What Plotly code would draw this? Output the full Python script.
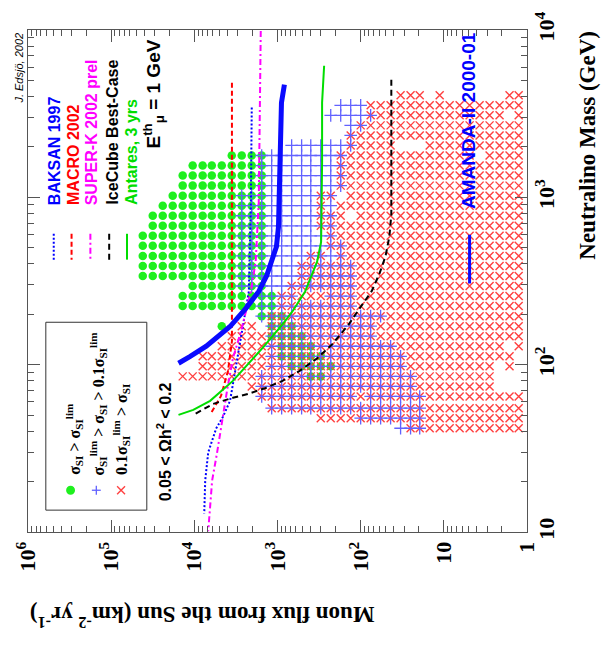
import plotly.graph_objects as go

# ---- model scan grid (bin centres, log10 of value) ----
FLUX_BIN_LOG = [4.62, 4.50, 4.38, 4.26, 4.14, 4.02, 3.90, 3.79, 3.67, 3.55,
                3.43, 3.31, 3.19, 3.07, 2.95, 2.83, 2.71, 2.60, 2.48, 2.36,
                2.24, 2.12, 2.00, 1.88, 1.76, 1.64, 1.52, 1.40, 1.29, 1.17,
                1.05, 0.93, 0.81, 0.69, 0.57, 0.45, 0.33, 0.21, 0.10]
MASS_BIN_LOG = [3.61, 3.55, 3.49, 3.43, 3.37, 3.31, 3.25, 3.19, 3.13, 3.07,
                3.01, 2.95, 2.89, 2.83, 2.77, 2.71, 2.65, 2.59, 2.53, 2.47,
                2.41, 2.35, 2.29, 2.23, 2.17, 2.11, 2.05, 1.99, 1.93, 1.87,
                1.81, 1.74, 1.68, 1.62]

# occupied flux-bin runs per mass bin, one dict per cross-section class
GREEN_RUNS = {  # sigma_SI > sigma_lim
    6: [(9, 12)], 7: [(5, 12)], 8: [(4, 12)], 9: [(4, 12)], 10: [(3, 12)],
    11: [(2, 12)], 12: [(1, 12)], 13: [(1, 12)], 14: [(0, 12)], 15: [(0, 12)],
    16: [(0, 12)], 17: [(0, 12)], 18: [(0, 12)], 19: [(5, 12)], 20: [(4, 13)],
    21: [(4, 11), (12, 13)], 22: [(12, 14)], 23: [(8, 8), (13, 15)],
    24: [(13, 16)], 25: [(14, 17)], 26: [(14, 18)], 27: [(15, 19)], 28: [(17, 18)],
}
BLUE_RUNS = {  # sigma_lim > sigma_SI > 0.1 sigma_lim
    1: [(20, 22)], 2: [(19, 23)], 3: [(21, 22)], 4: [(21, 21)], 5: [(15, 21)],
    6: [(12, 20)], 7: [(12, 20)], 8: [(12, 20)], 9: [(12, 20)], 10: [(10, 19)],
    11: [(10, 19)], 12: [(10, 19)], 13: [(10, 19)], 14: [(10, 19)], 15: [(10, 20)],
    16: [(10, 20)], 17: [(10, 21)], 18: [(10, 21)], 19: [(10, 21)],
    20: [(12, 15), (19, 21)], 21: [(12, 21)], 22: [(12, 24)], 23: [(13, 23)],
    24: [(13, 23)], 25: [(13, 25)], 26: [(13, 26)], 27: [(13, 26)], 28: [(12, 27)],
    29: [(12, 27)], 30: [(12, 21), (23, 28)], 31: [(13, 28)], 32: [(22, 28)],
    33: [(26, 28)],
}
RED_RUNS = {  # 0.1 sigma_lim > sigma_SI
    0: [(26, 28), (30, 30), (37, 38)], 1: [(23, 38)], 2: [(23, 36), (38, 38)],
    3: [(22, 38)], 4: [(21, 38)], 5: [(21, 25), (29, 38)], 6: [(20, 33), (35, 38)],
    7: [(20, 38)], 8: [(20, 38)], 9: [(20, 38)], 10: [(18, 19), (21, 38)],
    11: [(18, 18), (20, 38)], 12: [(18, 20), (22, 38)], 13: [(18, 38)],
    14: [(19, 38)], 15: [(19, 38)], 16: [(17, 18), (20, 38)], 17: [(16, 38)],
    18: [(16, 38)], 19: [(15, 38)], 20: [(14, 38)], 21: [(14, 38)], 22: [(13, 38)],
    23: [(10, 11), (13, 38)], 24: [(9, 38)], 25: [(8, 36), (38, 38)], 26: [(6, 37)],
    27: [(6, 35), (37, 37)], 28: [(4, 35)], 29: [(11, 35)], 30: [(12, 38)],
    31: [(13, 38)], 32: [(18, 38)], 33: [(27, 38)],
}

# ---- flux limits / sensitivities: neutralino mass (GeV) vs muon flux (km^-2 yr^-1) ----
BAKSAN_MASS = [3440, 938, 274, 217, 174, 95.5, 60.8, 48.9, 41.5, 29.9, 20.3, 12.9]
BAKSAN_FLUX = [2040, 2090, 2210, 2400, 2610, 3160, 3720, 4520, 5470, 6810, 7400, 7600]
MACRO_MASS = [4840, 138, 91.6, 65, 51.5]
MACRO_FLUX = [3530, 3530, 3940, 4780, 6280]
SUPERK_MASS = [9860, 3210, 938, 413, 274, 158, 109, 69.7, 44.4, 29.9, 20.3, 10.1]
SUPERK_FLUX = [1590, 1640, 1680, 1830, 2090, 2750, 3440, 4050, 4650, 5320, 6110, 6810]
ICECUBE_MASS = [5050, 785, 581, 442, 350, 274, 217, 174, 132, 109, 91.6, 80,
                72.6, 66.8, 63.4, 58.3, 50.1]
ICECUBE_FLUX = [42.8, 42.8, 45.2, 50.4, 59.4, 74, 103, 139, 221, 334, 547, 871,
                1390, 2280, 3440, 5940, 10300]
ANTARES_MASS = [6110, 3680, 1620, 542, 413, 314, 274, 208, 174, 126, 99.6, 80,
                60.8, 53.7, 50.1]
ANTARES_FLUX = [275, 291, 291, 299, 334, 416, 465, 662, 871, 1510, 2280, 3440,
                6460, 10300, 15500]
AMANDA_MASS = [4710, 3680, 2130, 1070, 667, 507, 424, 340, 274, 217, 169, 146,
               129, 112, 102]
AMANDA_FLUX = [826, 896, 920, 946, 973, 1030, 1150, 1350, 1680, 2400, 3720, 5180,
               7190, 11200, 15500]

FLUX_TICKS = [1, 10, 100, 1e3, 1e4, 1e5, 1e6]
FLUX_TICK_TEXT = ["1", "10", "10<sup>2</sup>", "10<sup>3</sup>", "10<sup>4</sup>",
                  "10<sup>5</sup>", "10<sup>6</sup>"]
MASS_TICKS = [10, 100, 1e3, 1e4]
MASS_TICK_TEXT = ["10", "10<sup>2</sup>", "10<sup>3</sup>", "10<sup>4</sup>"]

# ---- page geometry ----
W, H = 602, 645
L, R, T, B = 23, 527, 27, 532

DOT = "2px,2px"
DASH = "5px,3px"
LONGDASH = "6px,4px"
DASHDOT = "6px,3px,2px,3px"


def px(x):
    return (x - L) / (R - L)


def py(y):
    return (B - y) / (B - T)


def cells(runs):
    xs, ys = [], []
    for row, spans in runs.items():
        for a, b in spans:
            for c in range(a, b + 1):
                xs.append(10 ** FLUX_BIN_LOG[c])
                ys.append(10 ** MASS_BIN_LOG[row])
    return xs, ys


fig = go.Figure()

gx, gy = cells(GREEN_RUNS)
fig.add_trace(go.Scatter(x=gx, y=gy, mode="markers", hoverinfo="skip",
                         marker=dict(symbol="circle", size=8.5, color="#1ef01e",
                                     line=dict(width=0))))
rx, ry = cells(RED_RUNS)
fig.add_trace(go.Scatter(x=rx, y=ry, mode="markers", hoverinfo="skip",
                         marker=dict(symbol="x-thin", size=8,
                                     line=dict(width=1.4, color="#ff4040"))))
bx, by = cells(BLUE_RUNS)
fig.add_trace(go.Scatter(x=bx, y=by, mode="markers", hoverinfo="skip",
                         marker=dict(symbol="cross-thin", size=9,
                                     line=dict(width=1.3, color="#6262ff"))))

curves = [
    (BAKSAN_FLUX, BAKSAN_MASS, "#0000ff", 2, DOT),
    (SUPERK_FLUX, SUPERK_MASS, "#ff00ff", 2, DASHDOT),
    (MACRO_FLUX, MACRO_MASS, "#ff0000", 2, DASH),
    (ICECUBE_FLUX, ICECUBE_MASS, "#000000", 2, LONGDASH),
    (ANTARES_FLUX, ANTARES_MASS, "#00dd00", 2, "solid"),
    (AMANDA_FLUX, AMANDA_MASS, "#0a0aff", 5, "solid"),
]
for fx, my, col, wd, ds in curves:
    fig.add_trace(go.Scatter(x=fx, y=my, mode="lines", hoverinfo="skip",
                             line=dict(color=col, width=wd, dash=ds)))

SANS = "Liberation Sans, Arial, sans-serif"
SERIF = "Liberation Serif, Times New Roman, serif"
ann = []


def rot_text(text, x, y, color="black", size=16, family=SANS, weight="bold",
             yanchor="bottom", angle=-90, style="normal"):
    ann.append(dict(text=text, x=px(x), y=py(y), xref="paper", yref="paper",
                    xanchor="center", yanchor=yanchor, textangle=angle,
                    showarrow=False,
                    font=dict(family=family, size=size, color=color,
                              weight=weight, style=style)))


rot_text("J. Edsjö, 2002", 14, 28, size=11, weight="normal",
         yanchor="top", style="italic")
rot_text("BAKSAN 1997", 50, 205, color="#0000ff")
rot_text("MACRO 2002", 69, 205, color="#ff0000")
rot_text("SUPER-K 2002 prel", 88, 205, color="#ff00ff")
rot_text("IceCube Best-Case", 108, 205, color="#000000")
rot_text("Antares, 3 yrs", 128, 205, color="#00dd00")
rot_text("E<sup>th</sup><sub>μ</sub> = 1 GeV", 150, 148, size=19)
rot_text("AMANDA-II 2000-01", 468, 209, color="#0000ff", size=19)
rot_text("0.05 < Ωh<sup>2</sup> < 0.2", 160, 503, size=16)
rot_text("σ<sub>SI</sub> > σ<sub>SI</sub><sup>lim</sup>", 70, 477,
         size=16, family=SERIF)
rot_text("σ<sub>SI</sub><sup>lim</sup> > σ<sub>SI</sub> > 0.1σ<sub>SI</sub><sup>lim</sup>",
         94, 477, size=16, family=SERIF)
rot_text("0.1σ<sub>SI</sub><sup>lim</sup> > σ<sub>SI</sub>", 117, 477,
         size=16, family=SERIF)

# axis titles
rot_text("Neutralino Mass (GeV)", 588, 143, size=23, family=SERIF,
         yanchor="middle")
ann.append(dict(text="Muon flux from the Sun (km<sup>-2</sup> yr<sup>-1</sup>)",
                x=px(199), y=py(617), xref="paper", yref="paper",
                xanchor="center", yanchor="middle", textangle=180,
                showarrow=False,
                font=dict(family=SERIF, size=23, color="black", weight="bold")))

shapes = []


def seg(x0, y0, x1, y1, color, width=2, dash="solid"):
    shapes.append(dict(type="line", xref="paper", yref="paper",
                       x0=px(x0), y0=py(y0), x1=px(x1), y1=py(y1),
                       line=dict(color=color, width=width, dash=dash)))


# legend keys for the limit curves
seg(49, 232, 49, 258, "#0000ff", 2, DOT)
seg(67, 232, 67, 258, "#ff0000", 2, DASH)
seg(86, 232, 86, 258, "#ff00ff", 2, DASHDOT)
seg(105, 232, 105, 258, "#000000", 2, LONGDASH)
seg(123, 232, 123, 258, "#00dd00", 2, "solid")
seg(469, 233, 469, 282, "#0a0aff", 3, "solid")

# legend box for the scan classes
shapes.append(dict(type="rect", xref="paper", yref="paper",
                   x0=px(41), y0=py(510), x1=px(143), y1=py(321),
                   line=dict(color="#333333", width=1)))
shapes.append(dict(type="circle", xref="paper", yref="paper",
                   x0=px(61.5), y0=py(494.5), x1=px(70.5), y1=py(485.5),
                   fillcolor="#1ef01e", line=dict(width=0)))
seg(87.5, 490, 96.5, 490, "#6262ff", 1.3)
seg(92, 485.5, 92, 494.5, "#6262ff", 1.3)
seg(113, 486, 121, 494, "#ff4040", 1.4)
seg(113, 494, 121, 486, "#ff4040", 1.4)

minor_x = [k * 10 ** d for d in range(0, 6) for k in range(2, 10)]
minor_y = [k * 10 ** d for d in range(1, 4) for k in range(2, 10)]

axis_common = dict(showgrid=False, zeroline=False, showline=True,
                   linecolor="#555555", linewidth=1, mirror="ticks",
                   ticks="inside", ticklen=12, tickwidth=1, tickcolor="#555555",
                   tickangle=-90,
                   tickfont=dict(family=SERIF, size=22, color="black",
                                 weight="bold"))

fig.update_layout(
    width=W, height=H,
    margin=dict(l=L, r=W - R, t=T, b=H - B),
    paper_bgcolor="white", plot_bgcolor="white",
    showlegend=False,
    xaxis=dict(type="log", range=[6, 0], tickvals=FLUX_TICKS,
               ticktext=FLUX_TICK_TEXT,
               minor=dict(ticks="inside", ticklen=6, tickvals=minor_x,
                          tickcolor="#555555", showgrid=False),
               **axis_common),
    yaxis=dict(type="log", range=[1, 4], side="right", tickvals=MASS_TICKS,
               ticktext=MASS_TICK_TEXT,
               minor=dict(ticks="inside", ticklen=6, tickvals=minor_y,
                          tickcolor="#555555", showgrid=False),
               **axis_common),
    annotations=ann,
    shapes=shapes,
)

fig.write_html("out.html")
